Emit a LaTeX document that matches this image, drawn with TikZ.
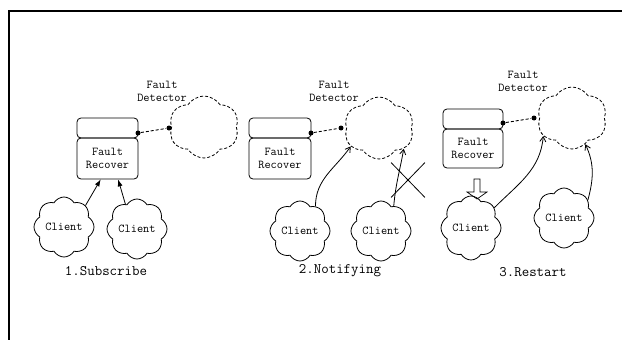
\documentclass[tikz,border=0pt]{standalone}
\usetikzlibrary{shapes.symbols,shapes.misc,arrows.meta}
\begin{document}
\begin{tikzpicture}[x=1pt,y=-1pt,line width=0.8pt,
  box/.style={draw,rounded corners=4pt,inner sep=0pt,align=center,font=\ttfamily\fontsize{12}{13}\selectfont},
  client/.style={draw,cloud,cloud puffs=8,cloud puff arc=120,aspect=1,inner sep=0pt,minimum width=58pt,minimum height=60pt,font=\ttfamily\fontsize{12}{12}\selectfont},
  detector/.style={draw,cloud,cloud puffs=6,cloud puff arc=115,aspect=1.1,inner sep=0pt,minimum width=70pt,minimum height=62pt,dash pattern=on 3pt off 2pt},
  dlabel/.style={align=center,inner sep=0pt,font=\ttfamily\fontsize{12}{13}\selectfont},
  dot/.style={circle,fill,inner sep=0pt,minimum size=5pt},
  link/.style={dash pattern=on 3pt off 2pt,line width=0.9pt},
  caption/.style={inner sep=0pt,font=\ttfamily\fontsize{14.5}{15}\selectfont},
  sub/.style={-{Latex[length=7pt,width=5pt]}},
  notif/.style={-{Straight Barb[length=5pt,width=6pt]}}]
\useasboundingbox (0,0) rectangle (622,340);
\coordinate (fa) at (8.5,340);
\coordinate (fb) at (8.5,10.5);
\coordinate (fc) at (622,10.5);
\draw[line width=2pt] (fa) -- (fb) -- (fc);

% Panel 1
\node[box,minimum width=61pt,minimum height=20pt] (fr1t) at (107.5,128) {};
\node[box,minimum width=61pt,minimum height=41pt] (fr1) at (107.5,158.5) {Fault\\Recover};
\node[detector] (fd1) at (204,127) {};
\node[dlabel] (lb1) at (162,91.5) {Fault\\Detector};
\node[dot] (d1a) at (138,133) {};
\node[dot] (d1b) at (169,128) {};
\draw[link] (d1a) -- (d1b);
\node[client] (c1a) at (64,227) {Client};
\node[client] (c1b) at (137,229) {Client};
\draw[sub] (c1a.45) -- (fr1.-108);
\draw[sub] (c1b.115) -- (fr1.-63);
\node[caption] (cap1) at (106,271) {1.Subscribe};

% Panel 2
\node[box,minimum width=62pt,minimum height=20pt] (fr2t) at (280,128) {};
\node[box,minimum width=62pt,minimum height=41pt] (fr2) at (280,158.5) {Fault\\Recover};
\node[detector] (fd2) at (379,128) {};
\node[dlabel] (lb2) at (334,91.5) {Fault\\Detector};
\node[dot] (d2a) at (311,133) {};
\node[dot] (d2b) at (341,128) {};
\draw[link] (d2a) -- (d2b);
\node[client] (c2a) at (300,231) {Client};
\node[client] (c2b) at (381,231) {Client};
\draw[notif] (c2a.58) to[out=90,in=235] (fd2.213);
\draw[notif] (c2b.63) to[out=85,in=-100] (fd2.-40);
\node[draw,cross out,minimum width=33pt,minimum height=34pt,inner sep=0pt] (x2) at (408,180) {};
\node[caption] (cap2) at (340,271) {2.Notifying};

% Panel 3
\node[box,minimum width=60pt,minimum height=20pt] (fr3t) at (473,119) {};
\node[box,minimum width=60pt,minimum height=39pt] (fr3) at (473,148.5) {Fault\\Recover};
\node[detector] (fd3) at (572,118) {};
\node[dlabel] (lb3) at (523,81.5) {Fault\\Detector};
\node[dot] (d3a) at (503,123) {};
\node[dot] (d3b) at (534,118) {};
\draw[link] (d3a) -- (d3b);
\node[client,minimum width=57pt,minimum height=64pt] (c3a) at (471,228) {Client};
\node[client,minimum width=58pt,minimum height=55pt] (c3b) at (564,218) {Client};
\coordinate (ar3) at (477,179);
\draw[line width=0.7pt] (ar3) ++(-3,0) -- ++(6,0) -- ++(0,13) -- ++(7,0) -- ++(-10,7) -- ++(-10,-7) -- ++(7,0) -- cycle;
\draw[notif] (c3a.41) to[out=45,in=-95] (fd3.212);
\draw[notif] (c3b.37) to[out=75,in=-65] (fd3.-63);
\node[caption] (cap3) at (533,272) {3.Restart};
\end{tikzpicture}
\end{document}
